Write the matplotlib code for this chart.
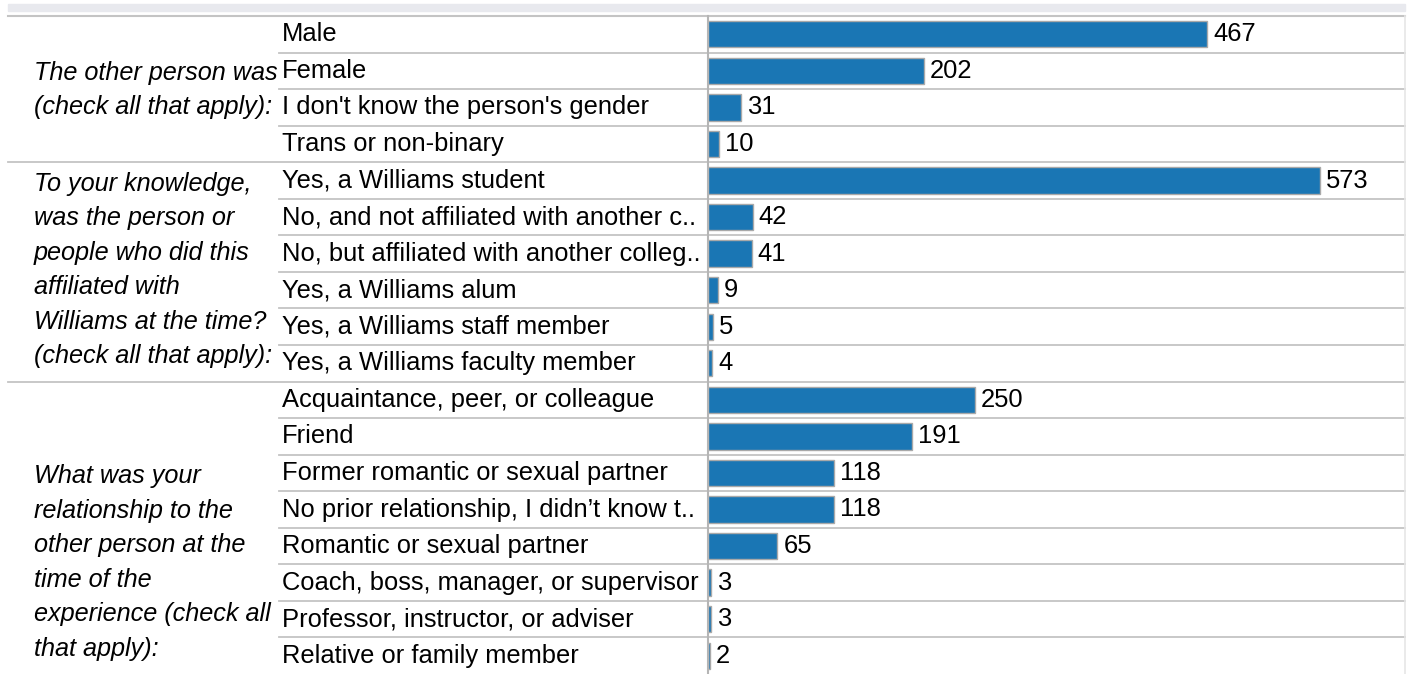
import matplotlib
matplotlib.use("Agg")
import matplotlib.pyplot as plt
from matplotlib.transforms import blended_transform_factory
from matplotlib.patches import Rectangle

plt.rcParams['font.family'] = ['Liberation Sans', 'DejaVu Sans']

group_labels = [
    "The other person was\n(check all that apply):",
    "To your knowledge,\nwas the person or\npeople who did this\naffiliated with\nWilliams at the time?\n(check all that apply):",
    "What was your\nrelationship to the\nother person at the\ntime of the\nexperience (check all\nthat apply):",
]
group_sizes = [4, 6, 8]
group_label_pos = [1.52, 6.45, 14.45]

categories = [
    "Male", "Female", "I don't know the person's gender", "Trans or non-binary",
    "Yes, a Williams student", "No, and not affiliated with another c..",
    "No, but affiliated with another colleg..", "Yes, a Williams alum",
    "Yes, a Williams staff member", "Yes, a Williams faculty member",
    "Acquaintance, peer, or colleague", "Friend", "Former romantic or sexual partner",
    "No prior relationship, I didn\u2019t know t..", "Romantic or sexual partner",
    "Coach, boss, manager, or supervisor", "Professor, instructor, or adviser",
    "Relative or family member",
]
values = [467, 202, 31, 10, 573, 42, 41, 9, 5, 4, 250, 191, 118, 118, 65, 3, 3, 2]

W, H = 1410, 674
FS = 18.4
fig = plt.figure(figsize=(W / 100, H / 100), dpi=100)

ax_left, ax_right = 708, 1405
ax_top, ax_bot = 16, 674
ax = fig.add_axes([ax_left / W, 1 - ax_bot / H, (ax_right - ax_left) / W, (ax_bot - ax_top) / H])
n = len(categories)
ax.set_ylim(n - 0.5, -0.5)
ax.set_xlim(0, (ax_right - ax_left) / 1.0685)
ax.axis('off')

bar_color = '#1a76b4'
ys = list(range(n))
ax.barh(ys, values, height=0.72, color=bar_color, edgecolor='#a9a9a9', linewidth=1.0, zorder=3)
for y, v in zip(ys, values):
    ax.annotate(str(v), (v, y), xytext=(4.3, 0), textcoords='offset points',
                va='center', ha='left', fontsize=FS, color='#000000')

trans = blended_transform_factory(fig.transFigure, ax.transData)
line_col = '#c4c4c4'

# top background band
fig.patches.append(Rectangle((8 / W, 1 - 11 / H), (1405 - 8) / W, 7 / H,
                             transform=fig.transFigure, color='#e8e9ee', zorder=0))

# row separators and group separators
boundaries = []
acc = 0
for s in group_sizes[:-1]:
    acc += s
    boundaries.append(acc)
for i in range(1, n):
    y = i - 0.5
    x0 = 8 / W if i in boundaries else 279 / W
    ax.plot([x0, 1405 / W], [y, y], transform=trans, color=line_col, lw=1.3,
            clip_on=False, zorder=1)
# top line
ax.plot([8 / W, 1405 / W], [-0.5, -0.5], transform=trans, color=line_col, lw=1.5,
        clip_on=False, zorder=1)
# vertical axis line
ax.plot([0, 0], [-0.5, n - 0.5], color='#b5b5b5', lw=1.5, clip_on=False, zorder=4)
# right border
ax.plot([1405 / W, 1405 / W], [-0.5, n - 0.5], transform=trans, color='#e6e6e6', lw=1.2,
        clip_on=False, zorder=1)

# category labels
for y, c in zip(ys, categories):
    ax.text(282 / W, y, c, transform=trans, ha='left', va='center', fontsize=FS,
            color='#000000')

# group labels
for lbl, pos in zip(group_labels, group_label_pos):
    ax.text(34 / W, pos, lbl, transform=trans, ha='left', va='center', fontsize=FS - 0.2,
            style='italic', color='#000000', linespacing=1.55)

fig.savefig('out.png', dpi=100, facecolor='white')
